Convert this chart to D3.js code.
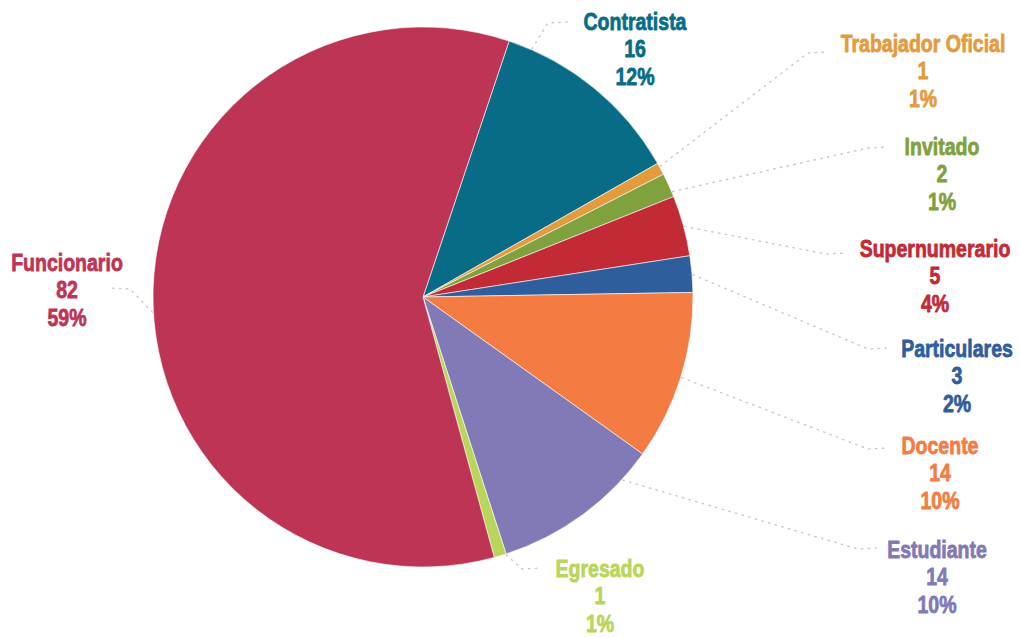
<!DOCTYPE html>
<html>
<head>
<meta charset="utf-8">
<style>
  body { margin: 0; background: #fff; }
  .leader { fill: none; stroke: #c8c8c8; stroke-width: 1.4px; stroke-dasharray: 1.4,5.5; stroke-linecap: round; }
  .lbl { font-family: "Liberation Sans", Arial, sans-serif; font-weight: bold; font-size: 24px; text-anchor: middle; stroke-width: 0.8px; stroke-linejoin: round; }
  .slice { stroke: #fff; stroke-width: 0.6px; }
</style>
</head>
<body>
<div id="chart"></div>
<script src="https://cdn.jsdelivr.net/npm/d3@7"></script>
<script>
  // data, clockwise from the Contratista slice
  var categories = ["Contratista", "Trabajador Oficial", "Invitado", "Supernumerario", "Particulares", "Docente", "Estudiante", "Egresado", "Funcionario"];
  var values = [16, 1, 2, 5, 3, 14, 14, 1, 82];
  var colors = ["#086c87", "#e39b3e", "#80a23e", "#c22a35", "#2f5e9c", "#f47c43", "#8279b7", "#b9d55a", "#be3455"];

  // label layout: [center x, first line y, leader end x, leader end y, leader start angle (deg)]
  var labelPos = [
    [635, 22, 568, 22, 23.7],
    [923, 44, 828, 52, 61.1],
    [942, 147, 888, 147, 67.1],
    [935, 249, 846, 253, 74.9],
    [957, 349, 888, 348, 85.3],
    [940, 446, 888, 448, 107.3],
    [937, 550, 878, 548, 132.5],
    [600, 569, 542, 568, 162.1],
    [67, 263, 110, 288, -93.2]
  ];

  var width = 1020, height = 637;
  var cx = 423, cy = 297, r = 270;
  var total = d3.sum(values);

  var svg = d3.select("#chart").append("svg")
      .attr("width", width)
      .attr("height", height);

  var start = 18.6 * Math.PI / 180;
  var pie = d3.pie().sort(null).startAngle(start).endAngle(start + 2 * Math.PI);
  var arcs = pie(values);
  var arc = d3.arc().innerRadius(0).outerRadius(r);

  var g = svg.append("g").attr("transform", "translate(" + cx + "," + cy + ")");
  g.selectAll("path.slice").data(arcs).enter().append("path")
      .attr("class", "slice")
      .attr("d", arc)
      .attr("fill", function(d, i) { return colors[i]; });

  // leader lines
  labelPos.forEach(function(p, i) {
    var a = p[4] * Math.PI / 180;
    var sx = cx + (r + 1) * Math.sin(a), sy = cy - (r + 1) * Math.cos(a);
    var ex = p[2], ey = p[3];
    var dir = ex > sx ? -1 : 1;
    svg.append("path")
        .attr("class", "leader")
        .attr("d", d3.line()([[sx, sy], [ex + dir * 20, ey + 1], [ex, ey]]));
  });

  // labels (condensed face imitated with a horizontal squeeze)
  var groups = [];
  categories.forEach(function(name, i) {
    var p = labelPos[i];
    var lg = svg.append("g");
    var t = lg.append("text")
        .attr("class", "lbl")
        .attr("fill", colors[i])
        .attr("stroke", colors[i])
        .attr("y", 8);
    var lines = [name, values[i], Math.round(values[i] / total * 100) + "%"];
    lines.forEach(function(s, k) {
      t.append("tspan").attr("x", 0).attr("dy", k === 0 ? 0 : 27.5).text(s);
    });
    groups.push(lg);
  });
  var w0 = groups[0].select("tspan").node().getComputedTextLength();
  var sq = 103 / w0;
  groups.forEach(function(lg, i) {
    lg.attr("transform", "translate(" + labelPos[i][0] + "," + labelPos[i][1] + ") scale(" + sq + ",1)");
  });
</script>
</body>
</html>
